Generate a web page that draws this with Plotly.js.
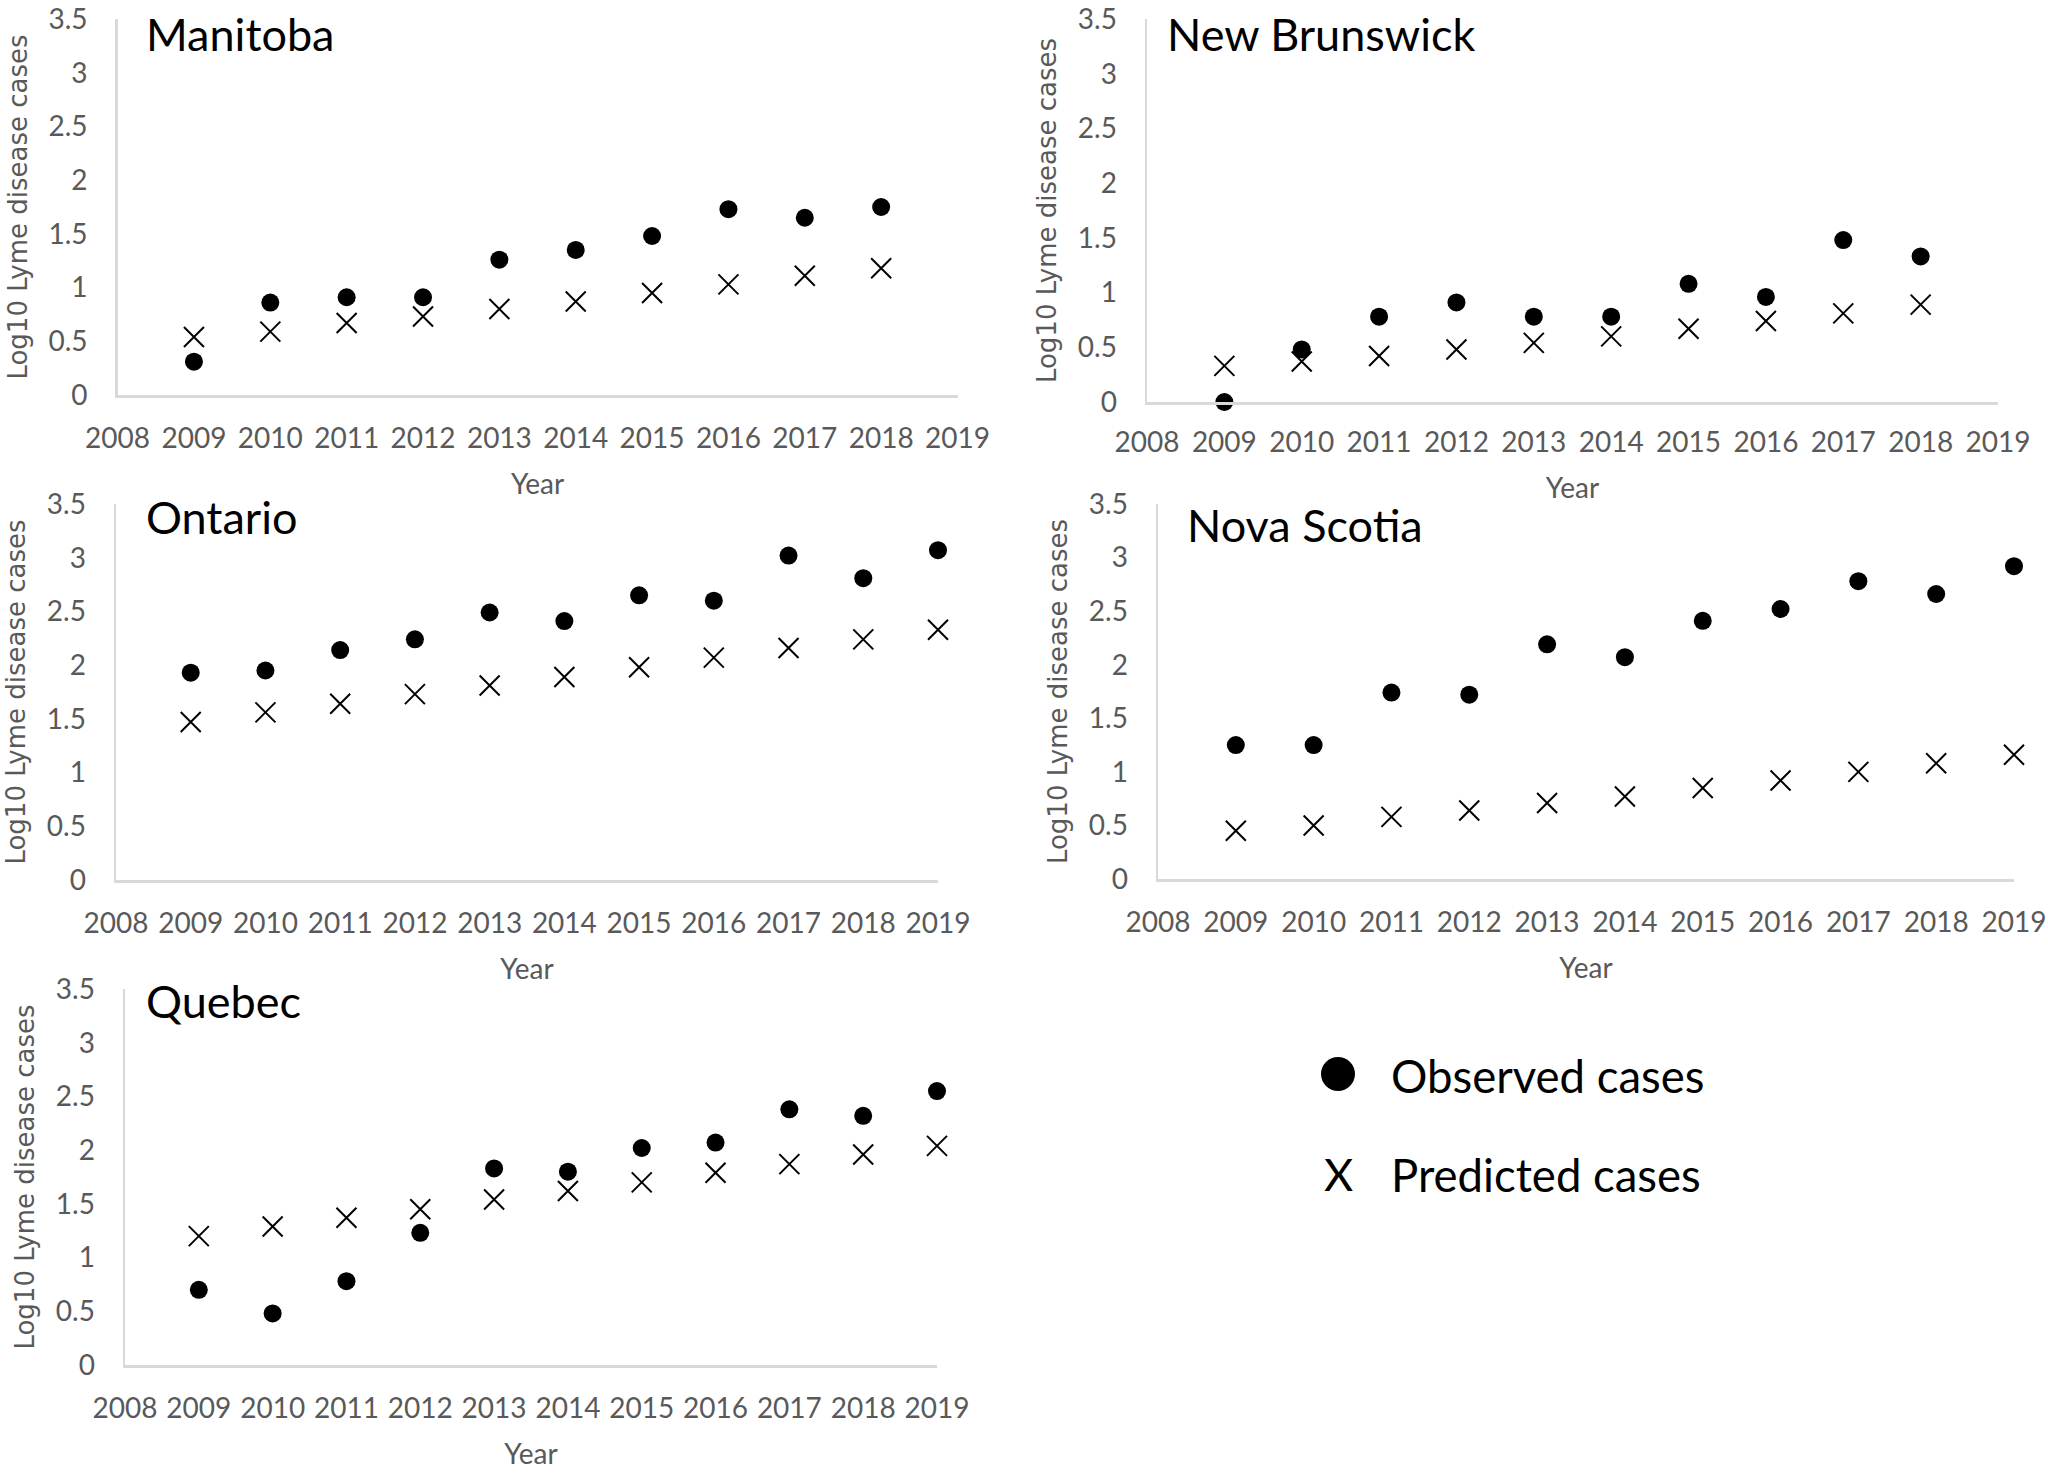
<!DOCTYPE html>
<html>
<head>
<meta charset="utf-8">
<script src="https://cdn.plot.ly/plotly-3.0.1.min.js"></script>
<style>html,body{margin:0;padding:0;background:#fff;}#chart{width:2048px;height:1473px;}</style>
</head>
<body>
<div id="chart"></div>
<script>
// ---- Data (Log10 Lyme disease cases) ----
const years = [2009, 2010, 2011, 2012, 2013, 2014, 2015, 2016, 2017, 2018, 2019];
const provinces = ["Manitoba", "New Brunswick", "Ontario", "Nova Scotia", "Quebec"];
const seriesNames = ["Observed cases", "Predicted cases"];
const xTickLabels = ["2008","2009","2010","2011","2012","2013","2014","2015","2016","2017","2018","2019"];
const yTickLabels = ["0","0.5","1","1.5","2","2.5","3","3.5"];

const manitobaObserved  = [0.31, 0.86, 0.91, 0.91, 1.26, 1.35, 1.48, 1.73, 1.65, 1.75];
const manitobaPredicted = [0.54, 0.59, 0.67, 0.73, 0.80, 0.87, 0.95, 1.03, 1.11, 1.18];
const newBrunswickObserved  = [0.00, 0.48, 0.78, 0.91, 0.78, 0.78, 1.08, 0.96, 1.48, 1.33];
const newBrunswickPredicted = [0.33, 0.37, 0.42, 0.48, 0.54, 0.60, 0.67, 0.74, 0.81, 0.89];
const ontarioObserved  = [1.93, 1.95, 2.14, 2.24, 2.49, 2.41, 2.65, 2.60, 3.02, 2.81, 3.07];
const ontarioPredicted = [1.47, 1.56, 1.64, 1.73, 1.81, 1.89, 1.98, 2.07, 2.16, 2.24, 2.33];
const novaScotiaObserved  = [1.25, 1.25, 1.74, 1.72, 2.19, 2.07, 2.41, 2.52, 2.78, 2.66, 2.92];
const novaScotiaPredicted = [0.45, 0.50, 0.58, 0.64, 0.71, 0.77, 0.85, 0.92, 1.00, 1.08, 1.16];
const quebecObserved  = [0.70, 0.48, 0.78, 1.23, 1.83, 1.80, 2.02, 2.07, 2.38, 2.32, 2.55];
const quebecPredicted = [1.20, 1.29, 1.37, 1.45, 1.54, 1.62, 1.70, 1.79, 1.87, 1.96, 2.04];

const observedSets  = [manitobaObserved, newBrunswickObserved, ontarioObserved, novaScotiaObserved, quebecObserved];
const predictedSets = [manitobaPredicted, newBrunswickPredicted, ontarioPredicted, novaScotiaPredicted, quebecPredicted];

// ---- Layout geometry (pixels in a 2048x1473 figure) ----
const W = 2048, H = 1473;
const panels = [
  {x0: 117.6, x1: 957.5, yTop: 19,  yBot: 395,  tx: 144,  ty: 34,   xtl: 17},
  {x0: 1147,  x1: 1998,  yTop: 19,  yBot: 402,  tx: 1165, ty: 34,   xtl: 14},
  {x0: 116,   x1: 938,   yTop: 504, yBot: 880,  tx: 144,  ty: 517,  xtl: 17},
  {x0: 1158,  x1: 2014,  yTop: 504, yBot: 879,  tx: 1185, ty: 525,  xtl: 17},
  {x0: 125,   x1: 937,   yTop: 989, yBot: 1365, tx: 144,  ty: 1001, xtl: 17}
];

const grey = "#595959";
const tickFont = {family: "Lato, 'Open Sans', sans-serif", size: 28, color: grey};
const traces = [];
const layout = {
  width: W, height: H,
  margin: {l: 0, r: 0, t: 0, b: 0},
  paper_bgcolor: "#ffffff", plot_bgcolor: "#ffffff",
  showlegend: false,
  annotations: [], shapes: []
};

provinces.forEach((name, i) => {
  const p = panels[i];
  const sfx = i === 0 ? "" : String(i + 1);
  const obs = observedSets[i], pred = predictedSets[i];
  traces.push({
    type: "scatter", mode: "markers", name: seriesNames[0],
    x: years.slice(0, obs.length), y: obs, xaxis: "x" + sfx, yaxis: "y" + sfx, cliponaxis: false,
    marker: {symbol: "circle", size: 18, color: "#000000"}, hoverinfo: "skip"
  });
  traces.push({
    type: "scatter", mode: "markers", name: seriesNames[1],
    x: years.slice(0, pred.length), y: pred, xaxis: "x" + sfx, yaxis: "y" + sfx, cliponaxis: false,
    marker: {symbol: "x-thin", size: 20, color: "#000000", line: {width: 2, color: "#000000"}}, hoverinfo: "skip"
  });
  layout["xaxis" + sfx] = {
    domain: [p.x0 / W, p.x1 / W], anchor: "y" + sfx,
    range: [2008, 2019], tickmode: "array",
    tickvals: xTickLabels.map(Number), ticktext: xTickLabels,
    showgrid: false, zeroline: false, showline: true, linecolor: "#d9d9d9", linewidth: 2.5,
    ticks: "outside", ticklen: p.xtl, tickcolor: "rgba(0,0,0,0)", tickfont: tickFont,
    ticklabeloverflow: "allow",
    title: {text: "Year", font: {family: "Lato, 'Open Sans', sans-serif", size: 28, color: grey}, standoff: 22},
    fixedrange: true
  };
  layout["yaxis" + sfx] = {
    domain: [1 - p.yBot / H, 1 - p.yTop / H], anchor: "x" + sfx,
    range: [0, 3.5], tickmode: "array",
    tickvals: yTickLabels.map(Number), ticktext: yTickLabels,
    showgrid: false, zeroline: false, showline: true, linecolor: "#d9d9d9", linewidth: 2.5,
    ticks: "outside", ticklen: 22, tickcolor: "rgba(0,0,0,0)", tickfont: tickFont,
    ticklabeloverflow: "allow",
    title: {text: "Log10 Lyme disease cases", font: {family: "'DejaVu Sans', Verdana, sans-serif", size: 26, color: grey}, standoff: 14},
    fixedrange: true
  };
  layout.annotations.push({
    xref: "paper", yref: "paper", x: p.tx / W, y: 1 - p.ty / H,
    xanchor: "left", yanchor: "middle", showarrow: false,
    text: name, font: {family: "Lato, 'Open Sans', sans-serif", size: 45, color: "#000000"}
  });
});

// ---- Legend (drawn as text + symbol) ----
layout.shapes.push({
  type: "circle", xref: "paper", yref: "paper",
  x0: (1338 - 17) / W, x1: (1338 + 17) / W, y0: 1 - (1074 + 17) / H, y1: 1 - (1074 - 17) / H,
  fillcolor: "#000000", line: {width: 0}
});
layout.annotations.push({
  xref: "paper", yref: "paper", x: 1338 / W, y: 1 - 1174 / H, xanchor: "center", yanchor: "middle",
  showarrow: false, text: "X", font: {family: "Lato, 'Open Sans', sans-serif", size: 45, color: "#000000"}
});
layout.annotations.push({
  xref: "paper", yref: "paper", x: 1389 / W, y: 1 - 1075 / H, xanchor: "left", yanchor: "middle",
  showarrow: false, text: seriesNames[0], font: {family: "Lato, 'Open Sans', sans-serif", size: 45.5, color: "#000000"}
});
layout.annotations.push({
  xref: "paper", yref: "paper", x: 1389 / W, y: 1 - 1174 / H, xanchor: "left", yanchor: "middle",
  showarrow: false, text: seriesNames[1], font: {family: "Lato, 'Open Sans', sans-serif", size: 45.5, color: "#000000"}
});

Plotly.newPlot("chart", traces, layout, {staticPlot: true, displayModeBar: false});
</script>
</body>
</html>
